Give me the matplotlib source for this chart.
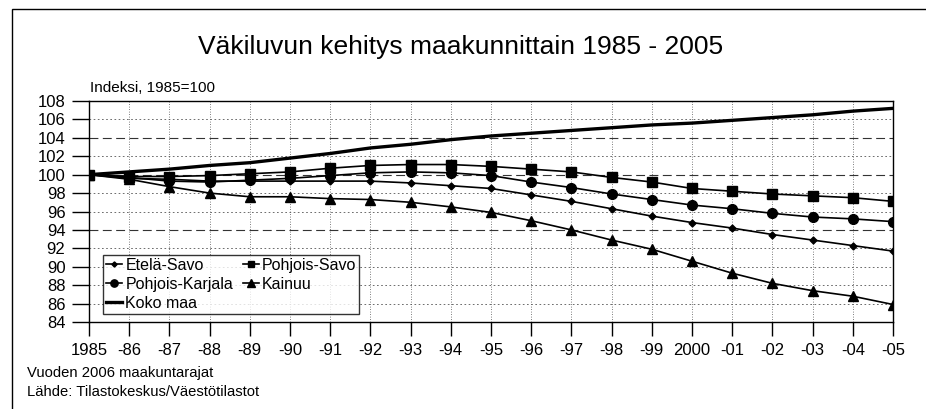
import matplotlib.pyplot as plt
from matplotlib.patches import Rectangle

plt.rcParams['font.family'] = ['Liberation Sans', 'DejaVu Sans']

# Data
years = list(range(1985, 2006))
year_labels = ['1985', '-86', '-87', '-88', '-89', '-90', '-91', '-92', '-93', '-94',
               '-95', '-96', '-97', '-98', '-99', '2000', '-01', '-02', '-03', '-04', '-05']
etela_savo = [100, 99.6, 99.5, 99.3, 99.3, 99.3, 99.3, 99.3, 99.1, 98.8, 98.5,
              97.8, 97.1, 96.3, 95.5, 94.8, 94.2, 93.5, 92.9, 92.3, 91.7]
pohjois_savo = [100, 99.8, 99.8, 99.9, 100.1, 100.3, 100.7, 101.0, 101.1, 101.1, 100.9,
                100.6, 100.3, 99.7, 99.2, 98.5, 98.2, 97.9, 97.7, 97.5, 97.1]
pohjois_karjala = [100, 99.7, 99.3, 99.2, 99.4, 99.6, 99.9, 100.2, 100.3, 100.2, 99.9,
                   99.2, 98.6, 97.9, 97.3, 96.7, 96.3, 95.8, 95.4, 95.2, 94.9]
kainuu = [100, 99.5, 98.7, 98.0, 97.6, 97.6, 97.4, 97.3, 97.0, 96.5, 95.9,
          95.0, 94.0, 92.9, 91.9, 90.6, 89.3, 88.2, 87.4, 86.8, 85.9]
koko_maa = [100, 100.3, 100.6, 101.0, 101.3, 101.8, 102.3, 102.9, 103.3, 103.8, 104.2,
            104.5, 104.8, 105.1, 105.4, 105.6, 105.9, 106.2, 106.5, 106.9, 107.2]
y_ticks = list(range(84, 109, 2))

fig = plt.figure(figsize=(9.26, 4.09), dpi=100)
fig.patches.append(Rectangle((12 / 926, -0.1), 1.0, 1.1 - 9 / 409, transform=fig.transFigure,
                             fill=False, edgecolor='black', linewidth=1.0))

ax = fig.add_axes([89 / 926, 1 - 322 / 409, (893 - 89) / 926, (322 - 101) / 409])

# grid
for y in y_ticks[1:-1]:
    if y in (94, 100, 104):
        ax.axhline(y, color='#333333', linewidth=0.8, linestyle=(0, (8, 4)), zorder=1)
    else:
        ax.axhline(y, color='#555555', linewidth=0.6, linestyle=(0, (2, 3)), zorder=1)
for x in years[1:-1]:
    ax.axvline(x, color='#555555', linewidth=0.6, linestyle=(0, (1, 2)), zorder=1)

lc = 'black'
l1, = ax.plot(years, etela_savo, color=lc, lw=1.2, marker='D', ms=3.5, label='Etelä-Savo')
l2, = ax.plot(years, pohjois_savo, color=lc, lw=1.2, marker='s', ms=6.5, label='Pohjois-Savo')
l3, = ax.plot(years, pohjois_karjala, color=lc, lw=1.2, marker='o', ms=7, label='Pohjois-Karjala')
l4, = ax.plot(years, kainuu, color=lc, lw=1.2, marker='^', ms=7.5, label='Kainuu')
l5, = ax.plot(years, koko_maa, color=lc, lw=2.4, label='Koko maa')

ax.set_xlim(1985, 2005)
ax.set_ylim(84, 108)
ax.set_xticks(years)
ax.set_xticklabels(year_labels)
ax.set_yticks(y_ticks)
ax.tick_params(axis='y', length=12, width=1, labelsize=12, pad=5)
ax.tick_params(axis='x', length=10, width=1, labelsize=12, pad=5)
for s in ax.spines.values():
    s.set_linewidth(1.0)

leg = ax.legend([l1, l3, l5, l2, l4],
                ['Etelä-Savo', 'Pohjois-Karjala', 'Koko maa', 'Pohjois-Savo', 'Kainuu'],
                ncol=2, loc='lower left', bbox_to_anchor=((103 - 89) / 804, (322 - 314) / 221),
                borderaxespad=0, fontsize=11.5, frameon=True, fancybox=False,
                edgecolor='black', handlelength=1.0, handletextpad=0.2, columnspacing=0.6,
                labelspacing=0.25, borderpad=0.2, markerscale=0.75)
leg.get_frame().set_linewidth(1.0)

fig.text(461 / 926, 1 - 47 / 409, 'Väkiluvun kehitys maakunnittain 1985 - 2005',
         ha='center', va='center', fontsize=19)
fig.text(90 / 926, 1 - 88 / 409, 'Indeksi, 1985=100', ha='left', va='center', fontsize=11)
fig.text(27 / 926, 1 - 373 / 409, 'Vuoden 2006 maakuntarajat', ha='left', va='center',
         fontsize=10.6)
fig.text(27 / 926, 1 - 392 / 409, 'Lähde: Tilastokeskus/Väestötilastot', ha='left', va='center',
         fontsize=10.6)

fig.savefig('out.png', dpi=100)
